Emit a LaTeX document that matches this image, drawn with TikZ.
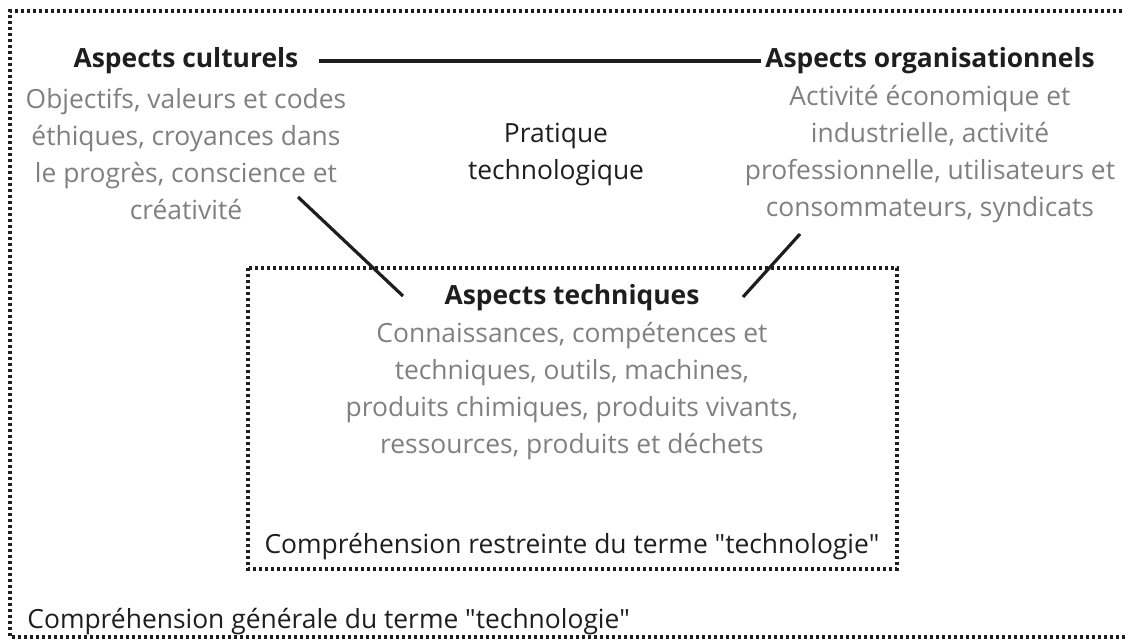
\documentclass[tikz,border=0pt]{standalone}
\usepackage{fontspec}
\setmainfont{Open Sans}
\usepackage{xcolor}
\usepackage{tikz}
\definecolor{ink}{HTML}{1E1E1E}
\definecolor{txtgray}{HTML}{808080}
\tikzset{
  txt/.style={inner sep=0pt, align=center, font=\fontsize{13.2}{18.5}\selectfont},
  head/.style={txt, text=ink, font=\fontsize{13.2}{18.5}\selectfont\bfseries},
  desc/.style={txt, text=txtgray},
  dotbox/.style={ink, line width=1.6pt, dash pattern=on 1.5pt off 1.5pt},
  link/.style={ink, line width=1.6pt}
}
\begin{document}
\begin{tikzpicture}[x=0.5pt,y=-0.5pt]
		\useasboundingbox (0,0) rectangle (1125,640);
		\clip (0,0) rectangle (1125,640);
		% frames
		\draw[dotbox] (1140,11) -- (10,11) -- (10,637) -- (1140,637);
		\draw[dotbox] (248,268) rectangle (897,569);
		% the three aspects
		\node[head] (cult) at (186,61) {Aspects culturels};
		\node[desc] (cultx) at (186,154) {Objectifs, valeurs et codes\\éthiques, croyances dans\\le progrès, conscience et\\créativité};
		\node[head] (org) at (930,61) {Aspects organisationnels};
		\node[desc] (orgx) at (930,154) {Activité économique et\\industrielle, activité\\professionnelle, utilisateurs et\\consommateurs, syndicats};
		\node[txt, text=ink] (prat) at (556,154) {Pratique\\technologique};
		\node[head] (tech) at (572,298) {Aspects techniques};
		\node[desc] (techx) at (572,391) {Connaissances, compétences et\\techniques, outils, machines,\\produits chimiques, produits vivants,\\ressources, produits et déchets};
		% captions
		\node[txt, text=ink] (restr) at (572,547) {Compréhension restreinte du terme \textquotedbl technologie\textquotedbl};
		\node[txt, text=ink, anchor=west] (gen) at (27,622) {Compréhension générale du terme \textquotedbl technologie\textquotedbl};
		% links
		\coordinate (c1) at (298,197);
		\coordinate (c2) at (403,296);
		\coordinate (o1) at (800,234);
		\coordinate (o2) at (743,297);
		\draw[link, shorten <=10pt, shorten >=2pt] (cult) -- (org);
		\draw[link] (c1) -- (c2);
		\draw[link] (o1) -- (o2);
	\end{tikzpicture}
\end{document}
